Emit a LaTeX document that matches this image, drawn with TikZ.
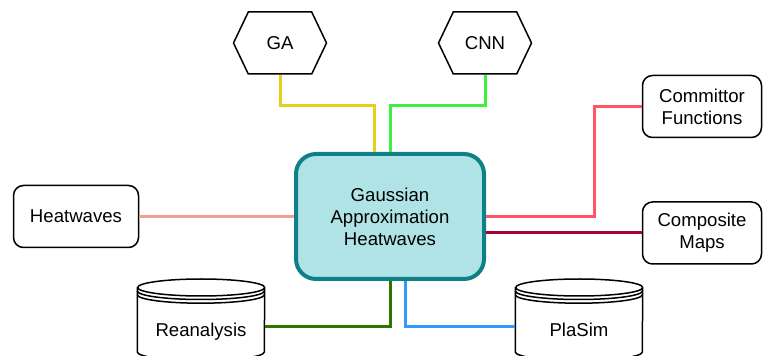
\documentclass[tikz,border=0pt]{standalone}
\usepackage{fontspec}
\setmainfont{Liberation Sans}
\usetikzlibrary{shapes.symbols}
\definecolor{hubfill}{HTML}{B0E3E6}
\definecolor{hubline}{HTML}{0E8088}
\definecolor{galine}{HTML}{E3CF1C}
\definecolor{cnnline}{HTML}{3CF03C}
\definecolor{heatline}{HTML}{F19C99}
\definecolor{commline}{HTML}{FF5566}
\definecolor{compline}{HTML}{A50040}
\definecolor{reanline}{HTML}{2D7600}
\definecolor{plasimline}{HTML}{3399FF}
\tikzset{
    every node/.style={
        font=\fontsize{18.6}{22}\selectfont,
        align=center},
    hub/.style={
        draw=hubline,
        fill=hubfill,
        line width=4pt,
        rounded corners=20pt,
        minimum width=188pt,
        minimum height=125pt},
    topic/.style={
        draw,
        line width=1.5pt,
        rounded corners=10pt,
        minimum width=119pt,
        minimum height=62pt},
    method/.style={
        draw,
        signal,
        signal to=east and west,
        signal pointer angle=129,
        line width=1.5pt,
        minimum width=93pt,
        minimum height=62pt},
    store/.style={
        inner sep=0pt,
        minimum width=127pt,
        text height=20pt,
        text depth=0pt},
    link/.style={line width=3pt}}
% data store outline round a store node
\newcommand\drawstore[1]{%
    \draw[line width=1.5pt] ([yshift=39.5pt]#1.west) -- ([yshift=-25pt]#1.west)
        arc[start angle=180, end angle=360, x radius=63.5pt, y radius=8.5pt]
        -- ([yshift=39.5pt]#1.east)
        arc[start angle=0, end angle=360, x radius=63.5pt, y radius=8.5pt];
    \draw[line width=1.5pt] ([yshift=36pt]#1.west)
        arc[start angle=180, end angle=360, x radius=63.5pt, y radius=8.5pt];
    \draw[line width=1.5pt] ([yshift=32.3pt]#1.west)
        arc[start angle=180, end angle=360, x radius=63.5pt, y radius=8.5pt];}

\begin{document}
\begin{tikzpicture}[x=1pt,y=1pt]
    \useasboundingbox (0,0) rectangle (763,356);
    \node[hub] (gah) at (390,139.5) {Gaussian\\Approximation\\Heatwaves};
    \node[method] (ga) at (280,313) {GA};
    \node[method] (cnn) at (485,313) {CNN};
    \node[topic] (comm) at (702,249.5) {Committor\\Functions};
    \node[topic] (comp) at (702,123) {Composite\\Maps};
    \node[topic, minimum width=125pt] (heat) at (76,139.5) {Heatwaves};
    \node[store] (rean) at (201,29) {Reanalysis};
    \node[store] (plasim) at (579,29) {PlaSim};
    \drawstore{rean}
    \drawstore{plasim}
    \draw[link, galine] (ga.south) -- ++(0,-31) -| ([xshift=-16pt]gah.north);
    \draw[link, cnnline] (cnn.south) -- ++(0,-31) -| (gah.north);
    \draw[link, heatline] (heat) -- (gah);
    \draw[link, commline] (comm.west) -- ++(-47,0) |- (gah.east);
    \draw[link, compline] (comp) -- (comp -| gah.east);
    \draw[link, reanline] (rean.east) -| (gah.south);
    \draw[link, plasimline] (plasim.west) -| ([xshift=15pt]gah.south);
\end{tikzpicture}
\end{document}
